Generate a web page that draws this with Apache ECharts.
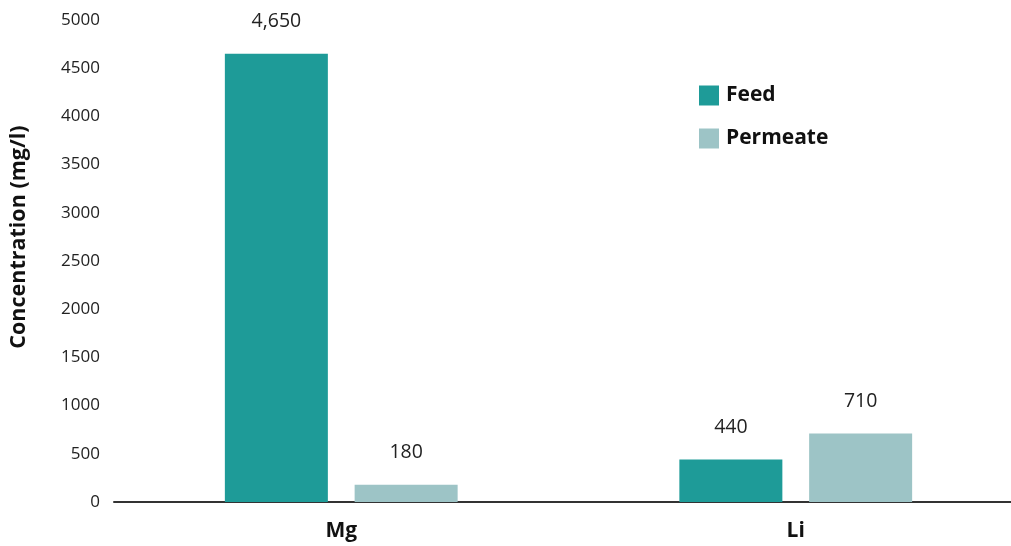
<!DOCTYPE html>
<html><head><meta charset="utf-8">
<script src="https://cdn.jsdelivr.net/npm/echarts@6/dist/echarts.min.js"></script>
<style>html,body{margin:0;padding:0;background:#fff}#c{width:1011px;height:546px}</style>
</head><body><div id="c"></div>
<script>
var categories = ['Mg', 'Li'];
var feed = [4650, 440];
var permeate = [180, 710];
var seriesNames = ['Feed', 'Permeate'];
var yTicks = [0, 500, 1000, 1500, 2000, 2500, 3000, 3500, 4000, 4500, 5000];

var FONT = 'Open Sans';
var chart = echarts.init(document.getElementById('c'));
function labelFmt(p){ return p.value.toLocaleString('en-US'); }
chart.setOption({
  animation: false,
  textStyle: {fontFamily: FONT},
  grid: {left: 114, width: 909, top: 20, bottom: 44, containLabel: false, outerBoundsMode: 'none'},
  legend: {
    orient: 'vertical', left: 694, top: 80, itemWidth: 20, itemHeight: 20, itemGap: 22,
    icon: 'rect',
    textStyle: {fontFamily: FONT, fontSize: 21, fontWeight: 'bold', color: '#111', padding: [0,0,0,2]},
    data: seriesNames
  },
  xAxis: {
    type: 'category', data: categories,
    axisLine: {lineStyle: {color: '#333', width: 2}},
    axisTick: {show: false},
    axisLabel: {fontFamily: FONT, fontSize: 21, fontWeight: 'bold', color: '#111', margin: 19}
  },
  yAxis: {
    type: 'value', min: yTicks[0], max: yTicks[yTicks.length-1], interval: 500,
    axisLine: {show: false}, axisTick: {show: false}, splitLine: {show: false},
    axisLabel: {fontFamily: FONT, fontSize: 17, color: '#222', margin: 14, formatter: function(v){ return String(v); }}
  },
  graphic: [{
    type: 'text', x: 19, y: 237, rotation: Math.PI/2,
    style: {text: 'Concentration (mg/l)', fontFamily: FONT, fontSize: 21.5, fontWeight: 'bold', fill: '#111', align: 'center', verticalAlign: 'middle'}
  }],
  series: [
    {name: seriesNames[0], type: 'bar', data: feed, barWidth: 103, barGap: '26%',
     itemStyle: {color: '#1e9b98'},
     label: {show: true, position: 'top', distance: 22, fontFamily: FONT, fontSize: 19.5, color: '#222', formatter: labelFmt}},
    {name: seriesNames[1], type: 'bar', data: permeate, barWidth: 103,
     itemStyle: {color: '#9dc4c6'},
     label: {show: true, position: 'top', distance: 22, fontFamily: FONT, fontSize: 19.5, color: '#222', formatter: labelFmt}}
  ]
});
</script></body></html>
